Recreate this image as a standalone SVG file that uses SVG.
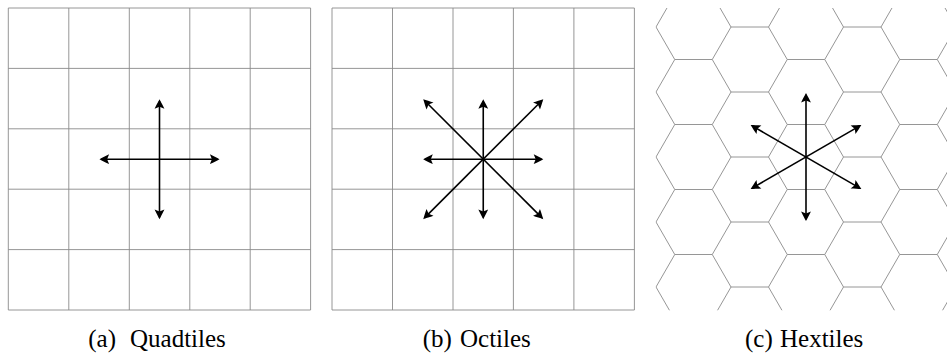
<svg xmlns="http://www.w3.org/2000/svg" xmlns:xlink="http://www.w3.org/1999/xlink" width="947" height="356" viewBox="0 0 947 356">
<style>
.grid{fill:none;stroke:#8a8a8a;stroke-width:0.9}
.arr{fill:none;stroke:#000;stroke-width:1.6;marker-start:url(#ah);marker-end:url(#ah)}
.lbl{font-family:"Liberation Serif",serif;font-size:25px}
</style>
<defs>
<marker id="ah" markerUnits="userSpaceOnUse" orient="auto-start-reverse" refX="0" refY="0" markerWidth="16" markerHeight="12" overflow="visible">
<path d="M1.8,0 C-0.8,-1.4 -4.6,-3.4 -7.8,-4.9 L-5.8,0 L-7.8,4.9 C-4.6,3.4 -0.8,1.4 1.8,0Z" fill="#000"/>
</marker>
<path id="hx" d="M-18.75,32.5 L-37.5,0 L-18.75,-32.5 L18.75,-32.5"/>
<clipPath id="hclip"><rect x="655.5" y="8" width="300" height="302.3"/></clipPath>
</defs>

<g id="quadtiles">
<path class="grid" d="M8.3,8 H310.6 M8.3,68.4 H310.6 M8.3,128.8 H310.6 M8.3,189.2 H310.6 M8.3,249.6 H310.6 M8.3,310 H310.6 M8.3,8 V310 M68.8,8 V310 M129.3,8 V310 M189.8,8 V310 M250.2,8 V310 M310.6,8 V310"/>
</g>
<g id="octiles">
<path class="grid" d="M332,8 H634.4 M332,68.4 H634.4 M332,128.8 H634.4 M332,189.2 H634.4 M332,249.6 H634.4 M332,310 H634.4 M332,8 V310 M392.5,8 V310 M453,8 V310 M513.4,8 V310 M573.9,8 V310 M634.4,8 V310"/>
</g>
<g id="hextiles" clip-path="url(#hclip)" class="grid">
<use xlink:href="#hx" x="693.5" y="27"/><use xlink:href="#hx" x="693.5" y="92"/><use xlink:href="#hx" x="693.5" y="157"/><use xlink:href="#hx" x="693.5" y="222"/><use xlink:href="#hx" x="693.5" y="287"/>
<use xlink:href="#hx" x="749.75" y="-5.5"/><use xlink:href="#hx" x="749.75" y="59.5"/><use xlink:href="#hx" x="749.75" y="124.5"/><use xlink:href="#hx" x="749.75" y="189.5"/><use xlink:href="#hx" x="749.75" y="254.5"/><use xlink:href="#hx" x="749.75" y="319.5"/>
<use xlink:href="#hx" x="806" y="27"/><use xlink:href="#hx" x="806" y="92"/><use xlink:href="#hx" x="806" y="157"/><use xlink:href="#hx" x="806" y="222"/><use xlink:href="#hx" x="806" y="287"/>
<use xlink:href="#hx" x="862.25" y="-5.5"/><use xlink:href="#hx" x="862.25" y="59.5"/><use xlink:href="#hx" x="862.25" y="124.5"/><use xlink:href="#hx" x="862.25" y="189.5"/><use xlink:href="#hx" x="862.25" y="254.5"/><use xlink:href="#hx" x="862.25" y="319.5"/>
<use xlink:href="#hx" x="918.5" y="27"/><use xlink:href="#hx" x="918.5" y="92"/><use xlink:href="#hx" x="918.5" y="157"/><use xlink:href="#hx" x="918.5" y="222"/><use xlink:href="#hx" x="918.5" y="287"/>
<use xlink:href="#hx" x="974.75" y="-5.5"/><use xlink:href="#hx" x="974.75" y="59.5"/><use xlink:href="#hx" x="974.75" y="124.5"/><use xlink:href="#hx" x="974.75" y="189.5"/><use xlink:href="#hx" x="974.75" y="254.5"/><use xlink:href="#hx" x="974.75" y="319.5"/>
</g>

<g id="connectors">
<line class="arr" x1="101.3" y1="159.2" x2="217.7" y2="159.2"/>
<line class="arr" x1="159.5" y1="101" x2="159.5" y2="217.4"/>

<line class="arr" x1="425" y1="159.2" x2="541.5" y2="159.2"/>
<line class="arr" x1="483.25" y1="101" x2="483.25" y2="217.4"/>
<line class="arr" x1="424.5" y1="100.5" x2="542" y2="217.9"/>
<line class="arr" x1="542" y1="100.5" x2="424.5" y2="217.9"/>

<line class="arr" x1="806" y1="94.8" x2="806" y2="219.2"/>
<line class="arr" x1="752.2" y1="125.9" x2="859.8" y2="188.1"/>
<line class="arr" x1="859.8" y1="125.9" x2="752.2" y2="188.1"/>
</g>

<g id="labels" fill="#000">
<text class="lbl" y="347"><tspan x="88.3">(a)</tspan><tspan x="130">Quadtiles</tspan></text>
<text class="lbl" y="347"><tspan x="422.7">(b)</tspan><tspan x="460">Octiles</tspan></text>
<text class="lbl" y="347"><tspan x="745">(c)</tspan><tspan x="780">Hextiles</tspan></text>
</g>
</svg>
